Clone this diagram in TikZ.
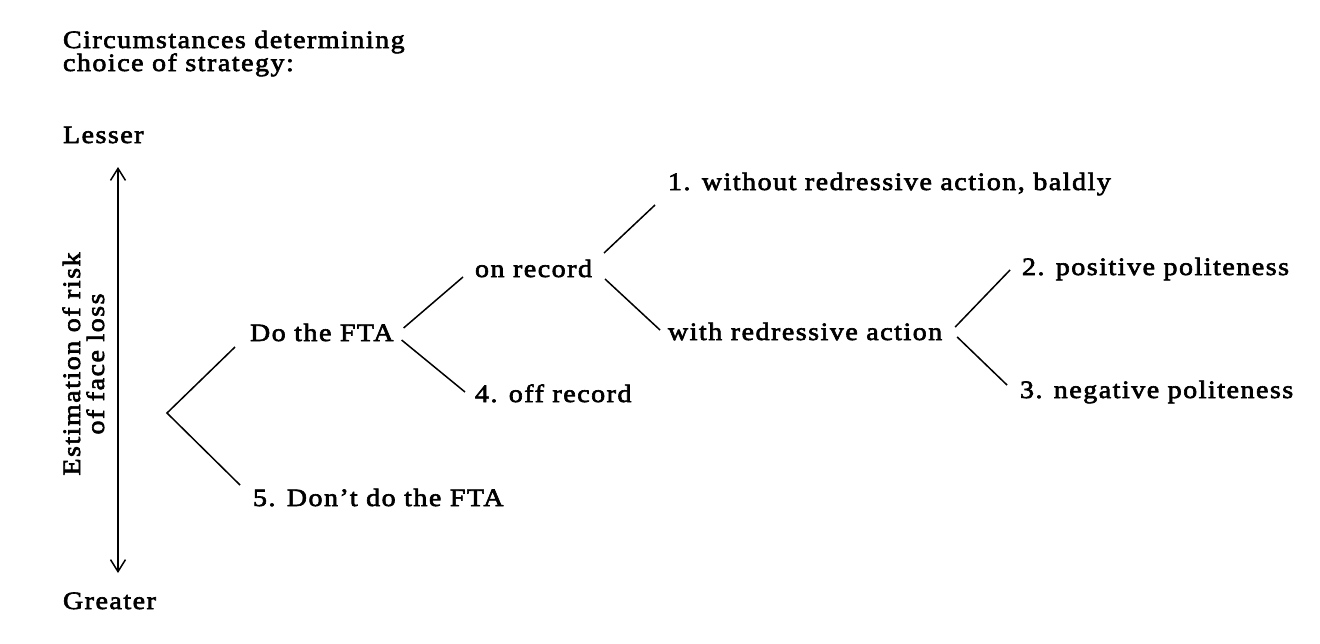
\documentclass[tikz,border=0pt]{standalone}
\usepackage{fontspec}
\setmainfont{Liberation Serif}[FakeStretch=1.12, LetterSpace=6, FakeBold=2.5]
\usetikzlibrary{arrows.meta}
\begin{document}
\begin{tikzpicture}[x=0.5pt, y=-0.5pt,
  lbl/.style={inner sep=0pt, outer sep=0pt, font=\fontsize{12.5}{15}\selectfont},
  branch/.style={line width=0.75pt},
  axisline/.style={line width=0.75pt, {Straight Barb[length=6pt,width=7.5pt]}-{Straight Barb[length=6pt,width=7.5pt]}}]
\useasboundingbox (0,0) rectangle (1320,643);
% heading
\node[lbl, anchor=base west] (head1) at (63,48) {Circumstances determining};
\node[lbl, anchor=base west] (head2) at (63,71) {choice of strategy:};
\node[lbl, anchor=base west] (lesser) at (63,143) {Lesser};
\node[lbl, anchor=base west] (greater) at (63,609) {Greater};
% axis
\coordinate (atop) at (118,167);
\coordinate (abot) at (118,573);
\draw[axisline] (abot) -- (atop);
\node[lbl, rotate=90, anchor=base] (est1) at (80,364) {Estimation of risk};
\node[lbl, rotate=90, anchor=base] (est2) at (104,364) {of face loss};
% tree nodes
\coordinate (root) at (167,413);
\node[lbl, anchor=base west] (doit) at (250,341) {Do the FTA};
\node[lbl, anchor=base west] (dont) at (253,506) {5. Don’t do the FTA};
\node[lbl, anchor=base west] (onrec) at (475,277) {on record};
\node[lbl, anchor=base west] (offrec) at (475,402) {4. off record};
\node[lbl, anchor=base west] (s1) at (668,190) {1. without redressive action, baldly};
\node[lbl, anchor=base west] (withr) at (668,340) {with redressive action};
\node[lbl, anchor=base west] (s2) at (1022,275) {2. positive politeness};
\node[lbl, anchor=base west] (s3) at (1020,398) {3. negative politeness};
% connectors
\draw[branch] ([shift={(-15,6)}]doit.base west) -- (root) -- ([shift={(-13,-21)}]dont.base west);
\draw[branch] ([shift={(10,-13)}]doit.base east) -- ([shift={(-12,0)}]onrec.base west);
\draw[branch] ([shift={(8,-1)}]doit.base east) -- ([shift={(-10,-10)}]offrec.base west);
\draw[branch] ([shift={(12,-24)}]onrec.base east) -- ([shift={(-13,15)}]s1.base west);
\draw[branch] ([shift={(13,2)}]onrec.base east) -- ([shift={(-8,-10)}]withr.base west);
\draw[branch] ([shift={(13,-13)}]withr.base east) -- ([shift={(-12,-5)}]s2.base west);
\draw[branch] ([shift={(15,-3)}]withr.base east) -- ([shift={(-13,-13)}]s3.base west);
\end{tikzpicture}
\end{document}
